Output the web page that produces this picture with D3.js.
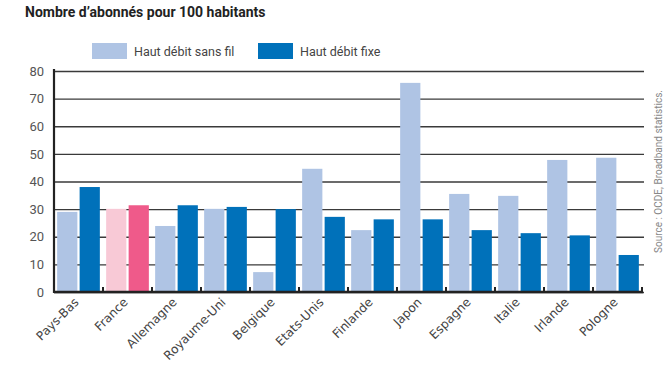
<!DOCTYPE html>
<html>
<head>
<meta charset="utf-8">
<script src="https://cdn.jsdelivr.net/npm/d3@7"></script>
<style>
  body { margin: 0; background: #fff; }
  svg { display: block; font-family: Roboto, "Liberation Sans", sans-serif; }
</style>
</head>
<body>
<div id="chart"></div>
<script>
const countries = ['Pays-Bas', 'France', 'Allemagne', 'Royaume-Uni', 'Belgique', 'Etats-Unis',
  'Finlande', 'Japon', 'Espagne', 'Italie', 'Irlande', 'Pologne'];
const sansFil = [29.0, 30.1, 23.9, 30.1, 7.2, 44.6, 22.4, 75.7, 35.5, 34.8, 47.8, 48.6];
const fixe = [38.0, 31.4, 31.4, 30.8, 30.0, 27.2, 26.3, 26.3, 22.4, 21.3, 20.5, 13.4];
const yTicks = [0, 10, 20, 30, 40, 50, 60, 70, 80];
const seriesNames = ['Haut débit sans fil', 'Haut débit fixe'];

const width = 672, height = 365;
const margin = {top: 71, right: 30, bottom: 73, left: 54};
const colors = {light: '#afc4e4', dark: '#0071ba', pinkLight: '#f8c9d6', pinkDark: '#ef5a8a'};

const svg = d3.select('#chart').append('svg')
  .attr('width', width).attr('height', height);

const x = d3.scaleBand().domain(countries).range([margin.left, width - margin.right]);
const y = d3.scaleLinear().domain([0, 80]).range([height - margin.bottom, margin.top]);
const sub = d3.scaleBand().domain([0, 1]).range([0, x.bandwidth()]).paddingOuter(0.14).paddingInner(0.1);

// Title
svg.append('text')
  .attr('x', 25).attr('y', 17)
  .attr('font-size', 14).attr('font-weight', 'bold').attr('fill', '#222')
  .text('Nombre d\u2019abonnés pour 100 habitants');

// Legend
const legend = svg.append('g');
[[92, colors.light], [258, colors.dark]].forEach(([lx, c], i) => {
  legend.append('rect').attr('x', lx).attr('y', 43).attr('width', 35).attr('height', 16).attr('fill', c);
  legend.append('text').attr('x', lx + 42).attr('y', 55.5)
    .attr('font-size', 12.5).attr('fill', '#444').text(seriesNames[i]);
});

// Gridlines
svg.append('g')
  .attr('transform', `translate(${margin.left},0)`)
  .call(d3.axisLeft(y).tickValues(yTicks).tickSize(-(width - margin.right - margin.left + 2)).tickFormat(''))
  .call(g => g.select('.domain').remove())
  .call(g => g.selectAll('line').attr('stroke', '#3a3a3a').attr('stroke-width', 1.3));

// Y labels
svg.append('g')
  .attr('transform', `translate(${margin.left},0)`)
  .call(d3.axisLeft(y).tickValues(yTicks).tickSize(0).tickPadding(10))
  .call(g => g.select('.domain').remove())
  .call(g => g.selectAll('text').attr('font-size', 13).attr('fill', '#555').attr('font-family', 'Roboto'));

// Bars
const groups = svg.append('g').selectAll('g')
  .data(countries).join('g')
  .attr('transform', d => `translate(${x(d)},0)`);

groups.append('rect')
  .attr('x', sub(0)).attr('width', sub.bandwidth())
  .attr('y', (d, i) => y(sansFil[i]))
  .attr('height', (d, i) => y(0) - y(sansFil[i]))
  .attr('fill', d => d === 'France' ? colors.pinkLight : colors.light);

groups.append('rect')
  .attr('x', sub(1)).attr('width', sub.bandwidth())
  .attr('y', (d, i) => y(fixe[i]))
  .attr('height', (d, i) => y(0) - y(fixe[i]))
  .attr('fill', d => d === 'France' ? colors.pinkDark : colors.dark);

// Left axis line
svg.append('line')
  .attr('x1', margin.left).attr('x2', margin.left)
  .attr('y1', y(80) - 2).attr('y2', y(0) + 1)
  .attr('stroke', '#222').attr('stroke-width', 2.2);

// Bottom axis
const xAxis = svg.append('g').attr('transform', `translate(0,${y(0)})`);
xAxis.append('line')
  .attr('x1', margin.left).attr('x2', width - margin.right + 1)
  .attr('stroke', '#222').attr('stroke-width', 2.4);
xAxis.selectAll('.tk')
  .data(countries.slice(1).map(c => x(c)).concat([x.range()[1]]))
  .join('line')
  .attr('x1', d => d).attr('x2', d => d)
  .attr('y1', -5).attr('y2', 1)
  .attr('stroke', '#222').attr('stroke-width', 2);

xAxis.selectAll('.lbl')
  .data(countries).join('text')
  .attr('transform', d => `translate(${x(d) + x.bandwidth() / 2 + 1},${11}) rotate(-45)`)
  .attr('text-anchor', 'end')
  .attr('font-family', '"DejaVu Sans", sans-serif')
  .attr('font-size', 12.2).attr('fill', '#444')
  .text(d => d);

// Source
svg.append('text')
  .attr('transform', 'translate(662,253) rotate(-90)')
  .attr('font-size', 10).attr('fill', '#888')
  .text('Source : OCDE, Broadband statistics.');
</script>
</body>
</html>
